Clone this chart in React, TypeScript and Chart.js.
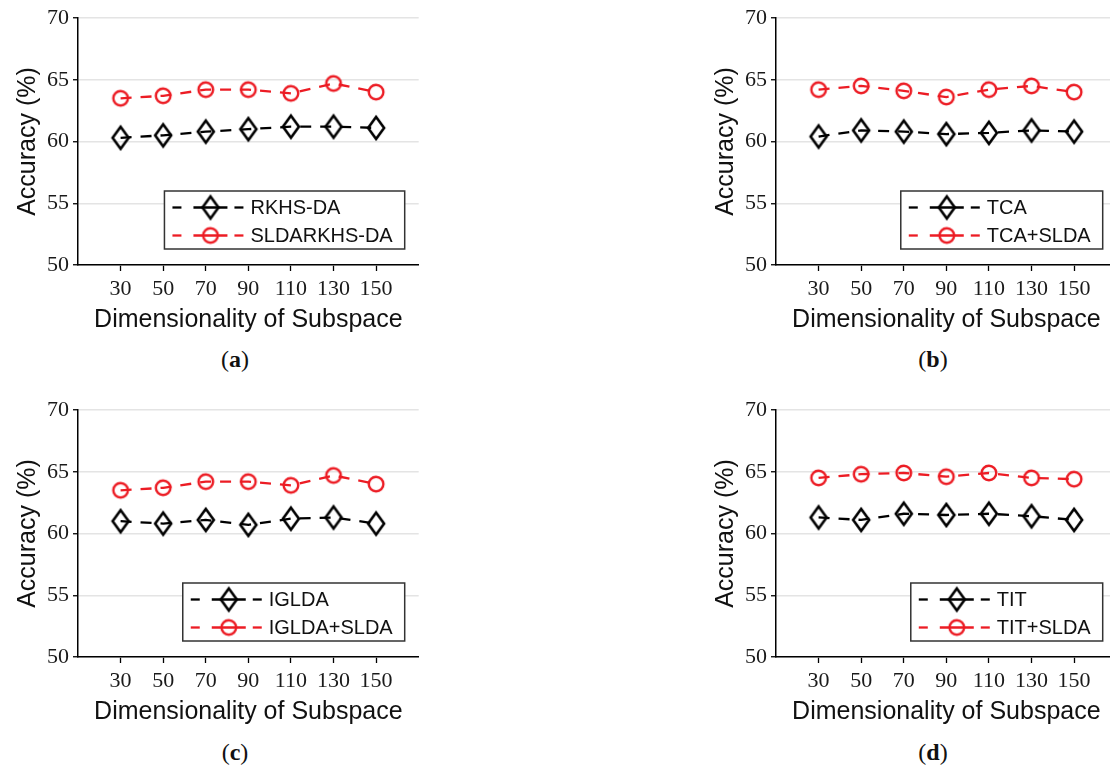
import React, { useEffect, useRef } from "react";
import { Chart, registerables } from "chart.js";

Chart.register(...registerables);

const dims = [30, 50, 70, 90, 110, 130, 150];
const xTickValues = [10, 30, 50, 70, 90, 110, 130, 150, 170];
const yTickValues = [50, 55, 60, 65, 70];

const rkhsDA = [60.3, 60.5, 60.8, 61.0, 61.2, 61.2, 61.1];
const sldaRkhsDA = [63.5, 63.7, 64.2, 64.2, 63.9, 64.7, 64.0];
const tca = [60.4, 60.9, 60.8, 60.6, 60.7, 60.9, 60.8];
const tcaSlda = [64.2, 64.5, 64.1, 63.6, 64.2, 64.5, 64.0];
const iglda = [61.0, 60.8, 61.1, 60.7, 61.2, 61.3, 60.8];
const igldaSlda = [63.5, 63.7, 64.2, 64.2, 63.9, 64.7, 64.0];
const tit = [61.3, 61.1, 61.6, 61.5, 61.6, 61.4, 61.1];
const titSlda = [64.5, 64.8, 64.9, 64.6, 64.9, 64.5, 64.4];

const BLACK = "#000000";
const RED = "rgb(236,28,36)";
const SANS = '"Liberation Sans", Arial, sans-serif';
const SERIF = '"Liberation Serif", "Times New Roman", serif';

function makeDiamond(color: string) {
  const c = document.createElement("canvas");
  c.width = 24;
  c.height = 30;
  const g = c.getContext("2d")!;
  g.strokeStyle = color;
  g.lineWidth = 2.6;
  g.lineJoin = "miter";
  g.beginPath();
  g.moveTo(12, 4);
  g.lineTo(20, 15);
  g.lineTo(12, 26);
  g.lineTo(4, 15);
  g.closePath();
  g.stroke();
  return c;
}

function makeCircle(color: string) {
  const c = document.createElement("canvas");
  c.width = 22;
  c.height = 22;
  const g = c.getContext("2d")!;
  g.strokeStyle = color;
  g.lineWidth = 2.4;
  g.beginPath();
  g.arc(11, 11, 7.3, 0, Math.PI * 2);
  g.stroke();
  return c;
}

const boxLegend = {
  id: "boxLegend",
  afterDatasetsDraw(chart: any) {
    const { ctx, chartArea } = chart;
    const ds = chart.data.datasets;
    ctx.save();
    ctx.font = `20px ${SANS}`;
    const tw = Math.max(...ds.map((d: any) => ctx.measureText(d.label).width));
    const w = 86 + tw + 12;
    const h = 58;
    const right = chartArea.right - 14;
    const bottom = chartArea.bottom - 16;
    const x = right - w;
    const y = bottom - h;
    ctx.fillStyle = "#ffffff";
    ctx.fillRect(x, y, w, h);
    ctx.strokeStyle = "#333";
    ctx.lineWidth = 1.5;
    ctx.strokeRect(x, y, w, h);
    ds.forEach((d: any, i: number) => {
      const cy = y + 16.5 + i * 28;
      ctx.strokeStyle = d.borderColor;
      ctx.lineWidth = 2.3;
      const segs = [
        [8, 17],
        [29, 63],
        [70, 79],
      ];
      segs.forEach(([a, b]) => {
        ctx.beginPath();
        ctx.moveTo(x + a, cy);
        ctx.lineTo(x + b, cy);
        ctx.stroke();
      });
      const img = d.pointStyle;
      ctx.drawImage(img, x + 46 - img.width / 2, cy - img.height / 2);
      ctx.fillStyle = "#111";
      ctx.textBaseline = "middle";
      ctx.textAlign = "left";
      ctx.fillText(d.label, x + 86, cy + 1);
    });
    ctx.restore();
  },
};

type PanelProps = {
  left: number;
  top: number;
  names: string[];
  black: number[];
  red: number[];
};

function Panel({ left, top, names, black, red }: PanelProps) {
  const ref = useRef<HTMLCanvasElement>(null);
  useEffect(() => {
    const canvas = ref.current!;
    const chart = new Chart(canvas, {
      type: "line",
      data: {
        datasets: [
          {
            label: names[0],
            data: dims.map((d, i) => ({ x: d, y: black[i] })),
            borderColor: BLACK,
            backgroundColor: "transparent",
            borderWidth: 2.3,
            borderDash: [11, 9],
            pointStyle: makeDiamond(BLACK) as any,
            pointRadius: 9,
            fill: false,
          },
          {
            label: names[1],
            data: dims.map((d, i) => ({ x: d, y: red[i] })),
            borderColor: RED,
            backgroundColor: "transparent",
            borderWidth: 2.3,
            borderDash: [11, 9],
            pointStyle: makeCircle(RED) as any,
            pointRadius: 8,
            fill: false,
          },
        ],
      },
      options: {
        animation: false,
        responsive: false,
        devicePixelRatio: 1,
        layout: { padding: { top: 18, right: 11, bottom: 5, left: 0 } },
        plugins: {
          legend: { display: false },
          tooltip: { enabled: false },
          title: { display: false },
        },
        scales: {
          x: {
            type: "linear",
            min: 10,
            max: 170,
            afterFit: (s: any) => {
              s.height = 70;
            },
            afterBuildTicks: (s: any) => {
              s.ticks = xTickValues.map((v) => ({ value: v }));
            },
            ticks: {
              font: { family: SERIF, size: 22 },
              color: "#1a1a1a",
              padding: 5,
              maxRotation: 0,
              autoSkip: false,
              callback: (v: any) => (dims.includes(Number(v)) ? String(v) : ""),
            },
            grid: {
              drawOnChartArea: false,
              drawTicks: true,
              tickLength: 6,
              tickWidth: 1.3,
              tickColor: (c: any) =>
                c.tick && dims.includes(c.tick.value) ? "#000" : "rgba(0,0,0,0)",
            },
            border: { display: true, color: "#000", width: 1.5 },
            title: {
              display: true,
              text: "Dimensionality of Subspace",
              font: { family: SANS, size: 25 },
              color: "#111",
              padding: { top: 0, bottom: 0 },
            },
          },
          y: {
            type: "linear",
            min: 50,
            max: 70,
            afterFit: (s: any) => {
              s.width = 78;
            },
            afterBuildTicks: (s: any) => {
              s.ticks = yTickValues.map((v) => ({ value: v }));
            },
            ticks: {
              font: { family: SERIF, size: 22 },
              color: "#1a1a1a",
              padding: 4,
            },
            grid: {
              color: "#e4e4e4",
              lineWidth: 1.5,
              drawTicks: true,
              tickLength: 5,
              tickColor: "#000",
              tickWidth: 1.3,
            },
            border: { display: true, color: "#000", width: 1.5 },
            title: {
              display: true,
              text: "Accuracy (%)",
              font: { family: SANS, size: 25 },
              color: "#111",
              padding: { top: 13, bottom: 0 },
            },
          },
        },
      },
      plugins: [boxLegend],
    });
    return () => chart.destroy();
  }, []);
  return (
    <canvas
      ref={ref}
      width={430}
      height={340}
      style={{ position: "absolute", left, top, width: 430, height: 340 }}
    />
  );
}

function Tag({ x, y, letter }: { x: number; y: number; letter: string }) {
  return (
    <div
      style={{
        position: "absolute",
        left: x - 30,
        top: y - 15,
        width: 60,
        height: 30,
        lineHeight: "30px",
        textAlign: "center",
        fontFamily: SERIF,
        fontSize: 24,
        color: "#111",
      }}
    >
      (<b>{letter}</b>)
    </div>
  );
}

export default function App() {
  return (
    <div
      style={{
        position: "fixed",
        left: 0,
        top: 0,
        width: 1110,
        height: 769,
        overflow: "hidden",
        background: "#ffffff",
      }}
    >
      <Panel left={0} top={0} names={["RKHS-DA", "SLDARKHS-DA"]} black={rkhsDA} red={sldaRkhsDA} />
      <Panel left={698} top={0} names={["TCA", "TCA+SLDA"]} black={tca} red={tcaSlda} />
      <Panel left={0} top={392} names={["IGLDA", "IGLDA+SLDA"]} black={iglda} red={igldaSlda} />
      <Panel left={698} top={392} names={["TIT", "TIT+SLDA"]} black={tit} red={titSlda} />
      <Tag x={235} y={359} letter="a" />
      <Tag x={933} y={359} letter="b" />
      <Tag x={235} y={752} letter="c" />
      <Tag x={933} y={752} letter="d" />
    </div>
  );
}
